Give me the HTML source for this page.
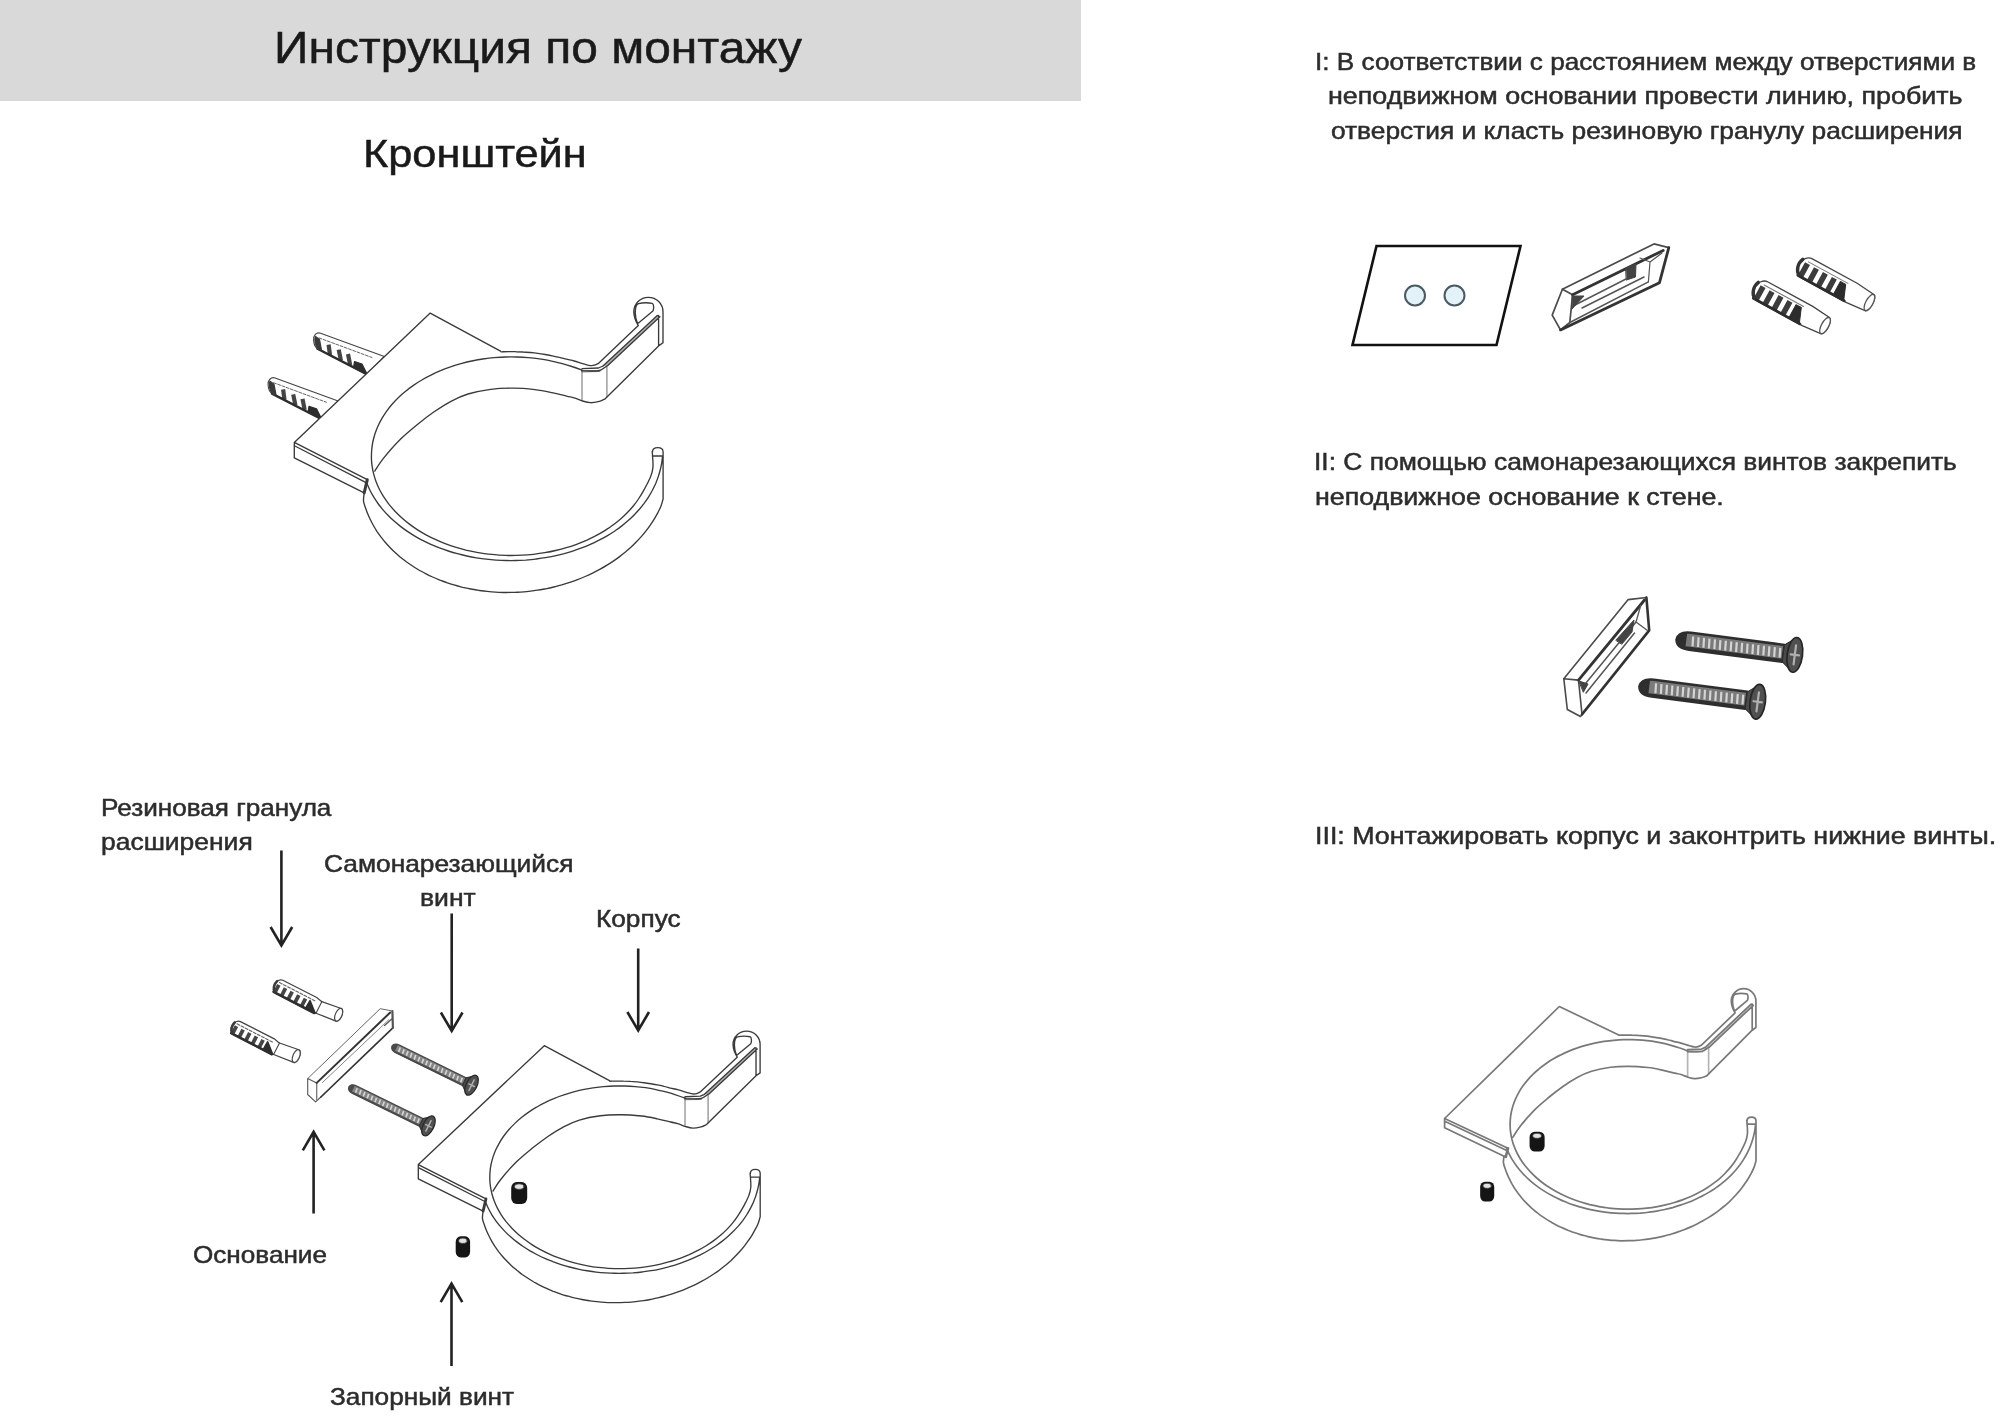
<!DOCTYPE html>
<html lang="ru"><head><meta charset="utf-8"><title>Инструкция по монтажу</title>
<style>
html,body{margin:0;padding:0;background:#fff;}
body{width:2000px;height:1416px;position:relative;overflow:hidden;font-family:"Liberation Sans",sans-serif;}
.band{position:absolute;left:0;top:0;width:1081px;height:100.5px;background:#d9d9d9;}
.t{position:absolute;white-space:nowrap;transform-origin:0 0;line-height:normal;-webkit-text-stroke:.5px currentColor;will-change:transform;}
svg.art{position:absolute;left:0;top:0;width:2000px;height:1416px;overflow:visible;filter:blur(.4px);}
</style></head><body>
<div class="band"></div>
<div class="t" style="left:274.37px;top:23.00px;font-size:44.5px;color:#1a1a1a;transform:scaleX(1.0767)">Инструкция по монтажу</div>
<div class="t" style="left:363.07px;top:131.50px;font-size:39px;color:#1a1a1a;transform:scaleX(1.1112)">Кронштейн</div>
<div class="t" style="left:1314.82px;top:47.60px;font-size:24px;color:#2c2c2c;transform:scaleX(1.0898)">I: В соответствии с расстоянием между отверстиями в</div>
<div class="t" style="left:1328.18px;top:82.20px;font-size:24px;color:#2c2c2c;transform:scaleX(1.1187)">неподвижном основании провести линию, пробить</div>
<div class="t" style="left:1330.90px;top:116.50px;font-size:24px;color:#2c2c2c;transform:scaleX(1.0963)">отверстия и класть резиновую гранулу расширения</div>
<div class="t" style="left:1314.40px;top:447.70px;font-size:24px;color:#2c2c2c;transform:scaleX(1.0989)">II: С помощью самонарезающихся винтов закрепить</div>
<div class="t" style="left:1315.48px;top:482.50px;font-size:24px;color:#2c2c2c;transform:scaleX(1.1162)">неподвижное основание к стене.</div>
<div class="t" style="left:1314.77px;top:822.00px;font-size:24px;color:#2c2c2c;transform:scaleX(1.1162)">III: Монтажировать корпус и законтрить нижние винты.</div>
<div class="t" style="left:101.41px;top:794.00px;font-size:24px;color:#2c2c2c;transform:scaleX(1.0877)">Резиновая гранула</div>
<div class="t" style="left:101.40px;top:827.60px;font-size:24px;color:#2c2c2c;transform:scaleX(1.1016)">расширения</div>
<div class="t" style="left:323.70px;top:850.00px;font-size:24px;color:#2c2c2c;transform:scaleX(1.0963)">Самонарезающийся</div>
<div class="t" style="left:420.29px;top:883.80px;font-size:24px;color:#2c2c2c;transform:scaleX(1.1050)">винт</div>
<div class="t" style="left:596.41px;top:905.00px;font-size:24px;color:#2c2c2c;transform:scaleX(1.0929)">Корпус</div>
<div class="t" style="left:193.41px;top:1241.00px;font-size:24px;color:#2c2c2c;transform:scaleX(1.0882)">Основание</div>
<div class="t" style="left:330.00px;top:1382.50px;font-size:24px;color:#2c2c2c;transform:scaleX(1.0918)">Запорный винт</div>
<svg class="art" viewBox="0 0 2000 1416" fill="none" stroke-linecap="round" stroke-linejoin="round">
<defs>
<g id="brkP"><path d="M294.3 442.4L430.2 313.1L500.5 351.2L460 364L425 381L395 405L376 432L370.4 452L371.5 470L367.3 479.7L364.2 492.9L294.3 457.9Z" fill="#fff" stroke="none"/><path d="M294.3 442.4L430.2 313.1L500.5 351.2 M294.3 442.4L367.3 479.7 M294.9 446L366.6 482.8 M294.3 442.4L294.3 457.9L364.2 492.9"/><path d="M367.3 479.7L364.2 492.9" stroke-width="3"/></g>
<g id="brkR"><path d="M652.2 451.5C652.3 452.9 652.7 456.9 652.8 459.6C653 462.3 653.2 465 652.9 467.6C652.6 470.3 652 473 651 475.6C650.1 478.2 648.7 480.9 647.4 483.5C646.1 486 644.8 488.6 643.3 491.1C641.9 493.6 640.4 496.1 638.8 498.5C637.2 501 635.4 503.4 633.5 505.7C631.6 508 629.6 510.3 627.4 512.5C625.3 514.7 623 516.9 620.6 519C618.2 521.1 615.7 523.1 613 525C610.4 527 607.6 528.8 604.8 530.6C601.9 532.4 599 534.1 595.9 535.7C592.9 537.3 589.7 538.8 586.5 540.3C583.3 541.7 580 543 576.6 544.3C573.3 545.5 569.8 546.7 566.3 547.7C562.8 548.8 559.2 549.7 555.6 550.5C552 551.4 548.3 552.1 544.7 552.7C541 553.4 537.2 553.9 533.5 554.3C529.7 554.7 525.9 555 522.1 555.2C518.3 555.4 514.5 555.5 510.7 555.5C506.9 555.5 503.1 555.3 499.3 555.1C495.5 554.9 491.8 554.5 488 554.1C484.3 553.6 480.5 553 476.9 552.4C473.2 551.7 469.5 550.9 465.9 550.1C462.3 549.2 458.8 548.2 455.3 547.1C451.8 546 448.4 544.8 445.1 543.6C441.7 542.3 438.4 540.9 435.3 539.4C432.1 538 429 536.4 426 534.8C422.9 533.1 420 531.4 417.2 529.6C414.4 527.8 411.7 525.9 409.1 523.9C406.5 521.9 404 519.9 401.7 517.8C399.3 515.7 397.1 513.5 395 511.3C392.9 509 390.9 506.7 389 504.4C387.2 502 385.5 499.6 383.9 497.2C382.3 494.7 380.9 492.2 379.6 489.7C378.3 487.2 377.2 484.6 376.2 482C375.2 479.4 374.4 476.8 373.7 474.1C373 471.5 372.5 468.8 372.1 466.1C371.7 463.5 371.5 460.8 371.4 458.1C371.4 455.4 371.4 452.7 371.7 450C371.9 447.3 372.3 444.6 372.8 442C373.4 439.3 374.1 436.7 374.9 434C375.8 431.4 376.8 428.8 377.9 426.3C379.1 423.7 380.4 421.2 381.8 418.7C383.2 416.2 384.8 413.7 386.5 411.3C388.3 408.9 390.1 406.6 392.1 404.3C394.1 402 396.2 399.8 398.5 397.6C400.7 395.4 403.1 393.3 405.6 391.3C408.1 389.2 410.7 387.3 413.4 385.4C416.1 383.5 418.9 381.7 421.8 380C424.7 378.2 427.8 376.6 430.9 375.1C434 373.5 437.2 372 440.5 370.7C443.7 369.3 447.1 368 450.5 366.9C453.9 365.7 457.4 364.6 461 363.6C464.5 362.7 468.1 361.8 471.8 361C475.4 360.3 479.1 359.6 482.8 359C486.5 358.5 490.3 358 494.1 357.7C497.8 357.4 501.6 357.1 505.4 357C509.2 356.9 513 356.9 516.8 357C520.6 357.1 524.4 357.3 528.2 357.6C532 357.9 535.8 358.3 539.5 358.8C543.2 359.4 546.9 360 550.6 360.8C554.2 361.5 557.8 362.4 561.4 363.3C565 364.3 568.5 365.3 571.9 366.5C575.3 367.6 580.3 369.5 582 370.2C583.7 370.9 580.7 370.5 582 370.6C583.3 370.7 587.1 371 590 371C592.9 371 596.7 371.3 599.5 370.5C602.3 369.7 605.7 366.8 606.9 366 M662.6 456.1C662.4 457.3 662.1 460.8 661.7 463.1C661.3 465.4 660.8 467.7 660.2 470C659.6 472.3 659 474.6 658.2 476.9C657.4 479.2 656.5 481.4 655.6 483.7C654.6 485.9 653.5 488.1 652.4 490.3C651.2 492.5 650 494.7 648.6 496.9C647.3 499 645.8 501.1 644.3 503.2C642.7 505.3 641.1 507.3 639.4 509.3C637.6 511.3 635.8 513.3 633.9 515.2C632 517.1 630 519 627.9 520.8C625.9 522.6 623.7 524.4 621.5 526.1C619.2 527.9 616.9 529.5 614.5 531.2C612.1 532.8 609.7 534.3 607.1 535.8C604.5 537.3 601.7 538.8 599 540.2C596.3 541.5 593.6 542.9 590.8 544.1C588 545.4 585.2 546.6 582.3 547.7C579.4 548.8 576.4 549.9 573.4 550.8C570.4 551.8 567.3 552.7 564.3 553.6C561.2 554.4 558 555.2 554.9 555.9C551.7 556.6 548.5 557.2 545.3 557.7C542.1 558.3 538.8 558.7 535.6 559.1C532.3 559.5 529 559.8 525.7 560.1C522.4 560.3 519.1 560.5 515.8 560.5C512.5 560.6 509.2 560.6 505.9 560.5C502.6 560.5 499.3 560.3 496 560.1C492.7 559.9 489.4 559.6 486.1 559.2C482.9 558.8 479.6 558.3 476.4 557.8C473.2 557.3 470 556.7 466.8 556C463.6 555.3 460.5 554.5 457.4 553.7C454.3 552.9 451.3 552 448.3 551C445.3 550 442.3 549 439.4 547.9C436.5 546.7 433.6 545.6 430.8 544.3C428 543.1 425.3 541.8 422.6 540.4C420 539 417.3 537.6 414.8 536.1C412.3 534.6 409.8 533 407.4 531.4C405 529.8 402.7 528.1 400.5 526.4C398.3 524.7 396.1 522.9 394.1 521.1C392 519.3 390 517.4 388.2 515.5C386.3 513.6 384.5 511.6 382.8 509.6C381.1 507.6 379.5 505.6 378 503.5C376.5 501.4 375.1 499.3 373.8 497.2C372.5 495 371.3 492.9 370.2 490.7C369.1 488.5 367.7 485.1 367.2 484 M501 351.8C502.2 351.8 505.9 351.6 508.4 351.6C510.9 351.6 513.4 351.6 515.8 351.7C518.3 351.7 520.8 351.8 523.2 352C525.7 352.1 528.1 352.3 530.6 352.5C533 352.8 535.5 353.1 537.9 353.4C540.3 353.7 542.8 354.1 545.2 354.5C547.6 354.9 550 355.3 552.3 355.8C554.7 356.3 557.1 356.8 559.4 357.4C561.7 357.9 563.9 358.6 566.3 359.2C568.8 359.8 571.8 360.4 574.1 361C576.4 361.6 578.1 362.2 580 362.8C581.9 363.4 583.6 363.9 585.4 364.4C587.1 364.9 589 365.5 590.5 365.6C592 365.7 593.2 365.6 594.5 365.2C595.8 364.8 597.8 363.7 598.4 363.4L638.3 325.6 M364.2 492.9C364.1 494.2 363.3 498.5 363.5 500.9C363.7 503.3 364.6 505.2 365.3 507.2C366 509.3 366.7 511.4 367.6 513.5C368.4 515.5 369.3 517.5 370.3 519.5C371.2 521.5 372.3 523.5 373.4 525.5C374.5 527.4 375.7 529.4 376.9 531.3C378.2 533.2 379.5 535 380.9 536.9C382.3 538.7 383.7 540.5 385.2 542.3C386.7 544.1 388.3 545.8 390 547.5C391.6 549.2 393.3 550.9 395.1 552.5C396.8 554.1 398.7 555.7 400.5 557.3C402.4 558.8 404.4 560.3 406.3 561.8C408.3 563.2 410.4 564.6 412.5 566C414.6 567.4 416.7 568.7 418.9 570C421.1 571.2 423.3 572.5 425.6 573.6C427.9 574.8 430.2 575.9 432.6 577C435 578.1 437.4 579.1 439.8 580.1C442.3 581 444.7 581.9 447.3 582.8C449.8 583.7 452.3 584.5 454.9 585.2C457.5 586 460.1 586.6 462.7 587.3C465.4 587.9 468 588.5 470.7 589C473.4 589.5 476.1 590 478.8 590.4C481.6 590.8 484.3 591.2 487.1 591.4C489.8 591.7 492.6 592 495.4 592.1C498.1 592.3 500.9 592.4 503.7 592.5C506.5 592.5 509.3 592.5 512.1 592.4C514.9 592.4 517.7 592.2 520.5 592.1C523.3 591.9 526.1 591.6 528.9 591.3C531.7 591 534.5 590.6 537.3 590.2C540.1 589.8 542.8 589.3 545.6 588.8C548.3 588.3 551.1 587.7 553.8 587C556.5 586.4 559.2 585.6 561.8 584.9C564.5 584.1 567.2 583.3 569.8 582.4C572.4 581.5 575 580.6 577.6 579.6C580.1 578.7 582.7 577.6 585.2 576.5C587.7 575.4 590.1 574.3 592.6 573.1C595 571.9 597.4 570.7 599.7 569.4C602.1 568.1 604.4 566.8 606.6 565.4C608.9 564 611.1 562.6 613.3 561.1C615.4 559.7 617.6 558.2 619.6 556.6C621.7 555 623.7 553.4 625.7 551.8C627.6 550.2 629.5 548.5 631.4 546.8C633.2 545.1 635 543.3 636.7 541.5C638.5 539.8 640.1 537.9 641.7 536.1C643.4 534.2 644.9 532.4 646.4 530.4C647.9 528.5 649.3 526.6 650.6 524.6C652 522.7 653.3 520.7 654.5 518.7C655.7 516.7 656.8 514.6 657.9 512.6C659 510.5 660 508.6 660.9 506.3C661.8 504.1 662.7 500.2 663.1 499L663.1 452 M652.5 452C652.5 448.4 654.5 447.6 657.8 447.6S663.1 448.4 663.1 452 M652.4 456L663 456 M374.8 471.1C376.2 469 379 463.9 383.2 458.6C387.4 453.3 394.5 445 400.2 439.4C405.9 433.8 411.5 429.3 417.1 424.7C422.8 420.1 428.5 415.7 434.1 411.8C439.8 407.9 445.4 404.3 451 401.3C456.6 398.3 461.4 396 468 394C474.6 392 483.1 390.3 490.6 389.3C498.1 388.3 505.8 388.1 513.2 388.2C520.6 388.2 528.5 388.9 535 389.6C541.5 390.3 546.8 391.5 552 392.6C557.2 393.7 562.8 395.2 566.5 396.1C570.2 397 571.4 397 574.1 397.8C576.8 398.6 579.9 400.2 582.6 401C585.3 401.8 587.7 402.6 590.5 402.7C593.3 402.8 597 401.9 599.5 401.3C602 400.7 604.2 399.2 605.2 398.8 M582 368.6L598.5 368L603 366 M602.7 366.2L657.3 315.4 M607.8 365.6L659.9 316.7 M605.2 398.8L658.6 345.9L663 342.7 M658.6 315.4L658.6 345.9 M663 311.9L663 342.7 M663 311.9A14.6 14.6 0 0 0 633.8 311.9C633.9 316 635.5 321 638.3 325.6 M637.6 323.7C636 320 635.2 316 635.3 312C635.4 307 636 304.4 638.5 303.6C642 302.8 649 302.8 652.2 303.4C654 304 654 309 652.9 311Z"/><path d="M582 370.8L582 399.9 M606.9 366L606.9 396.8" stroke-opacity=".55"/><path d="M582.5 371.3L599.5 371" stroke-width="2.2" stroke-opacity=".55"/><path d="M657.3 315.4L659.9 316.7L607.8 365.6L602.7 366.2Z" fill="currentColor" fill-opacity=".4" stroke="none"/></g>
<g id="ss"><rect x="-8" y="-11" width="16" height="22" rx="5.5" ry="6" fill="#151515" stroke="none"/><ellipse cx="0" cy="-6.4" rx="4.6" ry="2.7" fill="#e2e2e2" stroke="#555" stroke-width=".8"/></g>
<g id="plug"><g transform="rotate(-5.5 49 0)"><path d="M47 -5.4L70.5 -6A3.3 6 0 0 1 70.5 6L47 5.8Z" fill="#fff" stroke="#444" stroke-width="1.1"/><ellipse cx="70.5" cy="0" rx="3.3" ry="6" fill="#fff" stroke="#4a4a4a" stroke-width="1.2"/></g><path d="M5 -6.5L43 -6.7L49.5 -5.4L49.5 5.8L44 6.6L5 6.5A5.5 6.5 0 0 1 5 -6.5Z" fill="#fff" stroke="#444" stroke-width="1.1"/><path d="M3 -3.4L44 -3.4" stroke="#666" stroke-width="1" stroke-dasharray="3 1.6"/><path d="M3.5 -1.4L3.5 6.3 M11 -1.4L11 6.3 M18.5 -1.4L18.5 6.3 M26 -1.4L26 6.3 M33.5 -1.4L33.5 6.3" stroke="#454545" stroke-width="3.8" stroke-linecap="butt"/><path d="M38.5 -1.5L48.5 6L38 6.2Z" fill="#2e2e2e" stroke="#2e2e2e" stroke-width="1.6"/><path d="M2 6.2L48 6.3" stroke="#2e2e2e" stroke-width="2.3"/><path d="M0.3 -3.4A5.5 6.5 0 0 0 3 5.6" stroke="#3a3a3a" stroke-width="2.6"/></g>
<g id="plugL"><path d="M9 -11L60 -11L80 -9.2A3.6 9.2 0 0 1 80 9.2L60 11L9 11A9 11 0 0 1 9 -11Z" fill="#fff" stroke="#444" stroke-width="1.3"/><ellipse cx="80" cy="0" rx="3.6" ry="9" fill="#fff" stroke="#555" stroke-width="1.3"/><path d="M7 -6.5L52 -6.5" stroke="#777" stroke-width="1"/><path d="M7 -4.5L7 10.4 M17.2 -4.5L17.2 10.4 M27.4 -4.5L27.4 10.4 M37.6 -4.5L37.6 10.4" stroke="#3c3c3c" stroke-width="5.6" stroke-linecap="butt"/><path d="M44.5 -4.5L50.5 -4.5L56.5 10.6L44.5 10.6Z" fill="#2c2c2c" stroke="#2c2c2c" stroke-width="1"/><path d="M4 10.3L57 10.6" stroke="#2c2c2c" stroke-width="2.8"/><path d="M0.8 -6A9 11 0 0 0 5 9.5" stroke="#333" stroke-width="3.4"/></g>
<g id="plugB"><path d="M384.3 356.5L320.6 333.2C316.5 331.8 313 335.5 313.6 340.5C314 345 314.5 347 317.5 348.8L367.2 374.4Z" fill="#fff" stroke="#444" stroke-width="1.1"/><path d="M319 337.9L372 357.5" stroke="#666" stroke-width="1" stroke-dasharray="3 1.5"/><path d="M328.6 344.6L330 355M338.7 349.6L340.9 360.4M348 354L350.2 365.1" stroke="#454545" stroke-width="4.2" stroke-linecap="butt"/><path d="M354.5 361.5L362 364L367 374L353.5 367.5Z" fill="#2c2c2c" stroke="#2c2c2c" stroke-width="1.2"/><path d="M317.5 348.8L367.2 374.4" stroke="#2c2c2c" stroke-width="2.4"/><path d="M315.5 336.5C314 340 315 346 318.5 349.5L321.5 350L319.5 339.5Z" fill="#3a3a3a" stroke="#3a3a3a" stroke-width="1.2"/></g>
<g id="scrS"><path d="M0 0C0.4 -3.4 2.9 -4.2 6.7 -4.2L80.5 -4.2L80.5 4.2L6.7 4.2C2.9 4.2 0.4 3.4 0 0Z" fill="#858585" stroke="#4a4a4a" stroke-width="1.3"/><path d="M0 0C0.4 -3.4 2.9 -4.2 4.8 -4.2L4.8 4.2C2.9 4.2 0.4 3.4 0 0Z" fill="#4a4a4a" stroke="none"/><path d="M8 -2.5L8.5 2.3 M12.3 -2.5L12.8 2.3 M16.6 -2.5L17.1 2.3 M20.9 -2.5L21.4 2.3 M25.2 -2.5L25.8 2.3 M29.6 -2.5L30.1 2.3 M33.9 -2.5L34.4 2.3 M38.2 -2.5L38.7 2.3 M42.5 -2.5L43 2.3 M46.8 -2.5L47.3 2.3 M51.1 -2.5L51.7 2.3 M55.4 -2.5L56 2.3 M59.8 -2.5L60.3 2.3 M64.1 -2.5L64.6 2.3 M68.4 -2.5L68.9 2.3 M72.7 -2.5L73.2 2.3 M77 -2.5L77.5 2.3" stroke="#d4d4d4" stroke-width="1.7" stroke-linecap="butt"/><path d="M5 3.6L80.5 3.6" stroke="#4a4a4a" stroke-width="1.7"/><path d="M80.5 -4.2L88.6 -10.8L88.6 10.8L80.5 4.2Z" fill="#4a4a4a" stroke="#2e2e2e" stroke-width="1"/><ellipse cx="88.6" cy="0" rx="5.4" ry="10.8" fill="#505050" stroke="#262626" stroke-width="1.2"/><path d="M88.6 -5.9L88.6 5.9M85.6 0L91.6 0" stroke="#b0b0b0" stroke-width="1.5"/></g>
<g id="scrL"><path d="M0 0C0.9 -6.8 5.9 -8.5 13.6 -8.5L107.8 -8.5L107.8 8.5L13.6 8.5C5.9 8.5 0.9 6.8 0 0Z" fill="#7a7a7a" stroke="#2e2e2e" stroke-width="2.5"/><path d="M0 0C0.9 -6.8 5.9 -8.5 9.8 -8.5L9.8 8.5C5.9 8.5 0.9 6.8 0 0Z" fill="#2e2e2e" stroke="none"/><path d="M16.1 -5.1L16.8 4.7 M21.6 -5.1L22.3 4.7 M27.1 -5.1L27.8 4.7 M32.6 -5.1L33.3 4.7 M38.1 -5.1L38.8 4.7 M43.6 -5.1L44.2 4.7 M49.1 -5.1L49.7 4.7 M54.6 -5.1L55.2 4.7 M60.1 -5.1L60.7 4.7 M65.5 -5.1L66.2 4.7 M71 -5.1L71.7 4.7 M76.5 -5.1L77.2 4.7 M82 -5.1L82.7 4.7 M87.5 -5.1L88.2 4.7 M93 -5.1L93.6 4.7 M98.5 -5.1L99.1 4.7 M104 -5.1L104.6 4.7" stroke="#d4d4d4" stroke-width="2.2" stroke-linecap="butt"/><path d="M10.2 7.2L107.8 7.2" stroke="#2e2e2e" stroke-width="3.4"/><path d="M107.8 -8.5L119.3 -17.5L119.3 17.5L107.8 8.5Z" fill="#4a4a4a" stroke="#2e2e2e" stroke-width="1"/><ellipse cx="119.3" cy="0" rx="7.7" ry="17.5" fill="#505050" stroke="#262626" stroke-width="1.7"/><path d="M119.3 -9.6L119.3 9.6M115.1 0L123.5 0" stroke="#b0b0b0" stroke-width="2.2"/></g>
</defs>

<use href="#plugB"/>
<use href="#plugB" transform="translate(-45.5 44.8)"/>

<g stroke="#3a3a3a" color="#3a3a3a" stroke-width="1.35"><use href="#brkP"/><use href="#brkR"/></g>
<g transform="translate(145.5 757.6) scale(0.927 0.92)" stroke="#3a3a3a" color="#3a3a3a" stroke-width="1.45"><use href="#brkP"/><use href="#brkR"/></g>
<g stroke="#787878" color="#787878" stroke-width="1.7"><path d="M1444.6 1118.5L1559.3 1006.5L1619.3 1035.2M1444.6 1118.5L1508 1148.2M1445.2 1121.6L1507.3 1150.8M1444.6 1118.5L1444.6 1127.7L1505.6 1157"/><path d="M1508 1148.2L1505.8 1157" stroke-width="2.6"/></g>
<g transform="translate(1197 734.8) scale(0.843 0.854)" stroke="#787878" color="#787878" stroke-width="2"><use href="#brkR"/></g>
<path d="M281.4 850.4L281.4 945.5M270.6 927L281.4 945.5L292.2 927 M451.7 913.4L451.7 1031M440.9 1012.5L451.7 1031L462.5 1012.5 M638.2 948.5L638.2 1030.5M627.4 1012L638.2 1030.5L649 1012 M313.6 1213.5L313.6 1131.8M302.8 1150.3L313.6 1131.8L324.4 1150.3 M451.5 1366L451.5 1283.6M440.7 1302.1L451.5 1283.6L462.3 1302.1" stroke="#222" stroke-width="2.6" stroke-linecap="butt" stroke-linejoin="miter"/>
<path d="M1376.5 246L1520.5 246L1496.5 345L1352.5 345Z" stroke="#111" stroke-width="2.6" stroke-linejoin="miter"/>
<circle cx="1415" cy="295.5" r="10" fill="#e3f2f9" stroke="#4b5a62" stroke-width="2"/>
<circle cx="1454.5" cy="295.5" r="10" fill="#e3f2f9" stroke="#4b5a62" stroke-width="2"/>
<use href="#ss" transform="translate(519.2 1193) scale(1 1)"/>
<use href="#ss" transform="translate(462.9 1246.9) scale(.9 .96)"/>
<use href="#ss" transform="translate(1537.1 1141.6) scale(.94 .9)"/>
<use href="#ss" transform="translate(1487.2 1191.6) scale(.88 .9)"/>
<use href="#plug" transform="translate(275 984.6) rotate(27.3) scale(1 1.14)"/>
<use href="#plug" transform="translate(232.6 1025.9) rotate(27.3) scale(1 1.14)"/>
<use href="#plugL" transform="translate(1799.2 264.2) rotate(28.6)"/>
<use href="#plugL" transform="translate(1754.8 287.3) rotate(28.6)"/>
<use href="#scrS" transform="translate(392 1046.2) rotate(26.1)"/>
<use href="#scrS" transform="translate(348.9 1086.9) rotate(26.1)"/>
<use href="#scrL" transform="translate(1676.5 639.5) rotate(7.4)"/>
<use href="#scrL" transform="translate(1639.4 686.4) rotate(7.4)"/>
<g><path d="M307.7 1078.6L380.2 1008.7L391.5 1010.8L392.9 1027.8L320.9 1097L315.6 1101.9L307.7 1094.5Z" fill="#fff" stroke="none"/><path d="M307.7 1078.6L380.2 1008.7L391.5 1010.8" stroke="#666" stroke-width="1"/><path d="M307.7 1078.6L316.7 1082.9M307.7 1078.6L307.7 1094.5L315.6 1101.9L320.9 1097" stroke="#555" stroke-width="1.1"/><path d="M316.7 1082.9L316.7 1100" stroke="#777" stroke-width="1.3"/><path d="M316.7 1082.9L390.2 1012.5" stroke="#333" stroke-width="2"/><path d="M320.9 1097L392.9 1027.8" stroke="#333" stroke-width="1.7"/><path d="M322.5 1082.5L389 1019.5" stroke="#888" stroke-width="1"/><path d="M392.4 1011L392.9 1027.8" stroke="#555" stroke-width="2.2"/><path d="M384.5 1025.5L392.4 1018.5" stroke="#555" stroke-width="1.2"/></g>
<g><path d="M1563.8 678.7L1628.2 599.6L1646.4 597.5L1649.2 630.4L1582 714.4L1580.5 716.5L1567.3 709.5Z" fill="#fff" stroke="none"/><path d="M1563.8 678.7L1628.2 599.6L1646.4 597.5" stroke="#4a4a4a" stroke-width="1.6"/><path d="M1563.8 678.7L1578.5 680.1L1582 714.4L1580.5 716.5L1567.3 709.5Z" stroke="#4a4a4a" stroke-width="1.6"/><path d="M1578.5 680.1L1644.5 600" stroke="#333" stroke-width="2.8"/><path d="M1646.4 597.5L1649.2 630.4L1582 714.4" stroke="#333" stroke-width="2.6"/><path d="M1583.5 686L1636 622M1586 693L1634.5 633" stroke="#555" stroke-width="1.5"/><path d="M1636 622L1647.5 630.5M1636 622L1640.8 605.2" stroke="#555" stroke-width="1.3"/><path d="M1616 640L1634 620L1632 632L1622 644Z" fill="#444" stroke="#444" stroke-width="1"/><path d="M1579 681L1588 684L1583.5 692Z" fill="#444" stroke="#444" stroke-width="1"/></g>
<g><path d="M1562.4 289.2L1654 243.9L1668.8 247.6L1659.5 282.7L1560.5 329.9L1552.2 315.1Z" fill="#fff" stroke="none"/><path d="M1562.4 289.2L1654 243.9L1668.8 247.6" stroke="#4a4a4a" stroke-width="1.7"/><path d="M1562.4 289.2L1552.2 315.1L1560.5 329.9L1569.8 322.5L1572.6 294.8Z" stroke="#4a4a4a" stroke-width="1.7"/><path d="M1572.6 294.8L1663.2 250.4" stroke="#333" stroke-width="2.8"/><path d="M1668.8 247.6L1659.5 282.7L1560.5 329.9" stroke="#333" stroke-width="2.8"/><path d="M1569.8 322.5L1648.4 281.8M1575 305L1626 279M1582 308L1644 277" stroke="#555" stroke-width="1.5"/><path d="M1648.4 281.8L1650 262L1662 253M1650 262L1640 258" stroke="#555" stroke-width="1.2"/><path d="M1626 268L1636 264L1635.5 277L1626.5 280Z" fill="#444" stroke="#444" stroke-width="1"/><path d="M1572.6 296L1584 296L1572 309Z" fill="#444" stroke="#444" stroke-width="1"/></g>

</svg>
</body></html>
